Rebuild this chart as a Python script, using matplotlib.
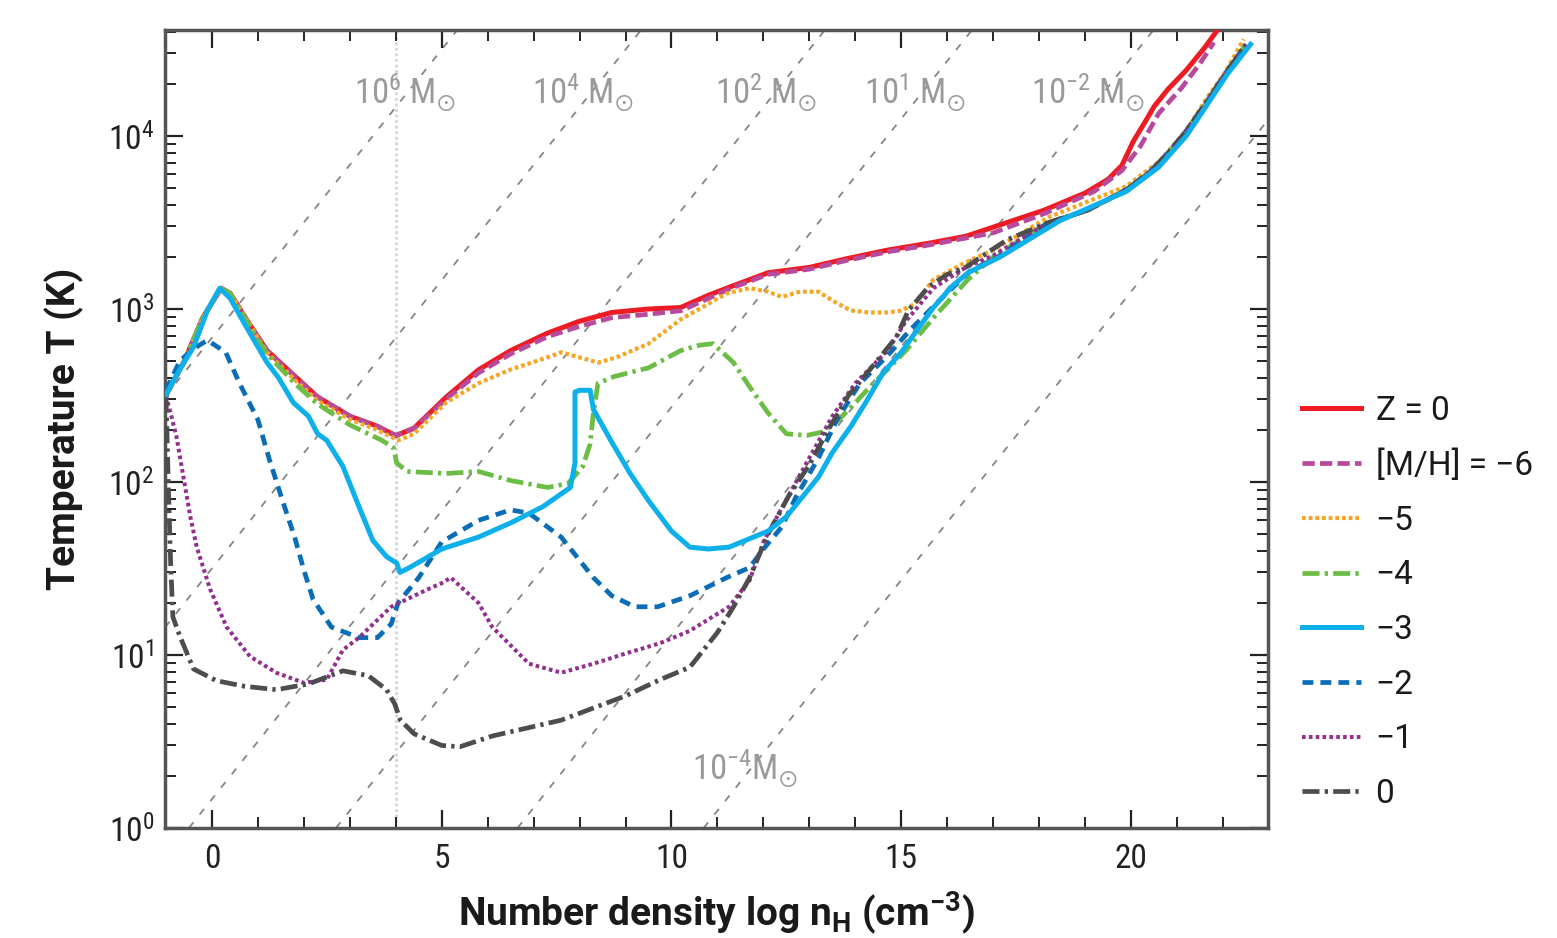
#!/usr/bin/env python3
"""
Thermal evolution of collapsing cores for a range of metallicities,
with lines of constant Jeans mass in the (n_H, T) plane.
"""

import matplotlib
matplotlib.use('Agg')
import matplotlib.pyplot as plt
from matplotlib import font_manager
from matplotlib.ticker import MultipleLocator, LogLocator, NullFormatter, FixedLocator

# ---- collapse tracks: log n_H (cm^-3) and T (K) ----
z0_x = [-1.0, -0.6, -0.2, 0.2, 0.4, 0.8, 1.2, 1.8, 2.3, 3.0, 3.6, 4.0, 4.4, 5.1, 5.8,
        6.5, 7.3, 8.0, 8.7, 9.5, 10.2, 10.8, 11.3, 12.1, 13.0, 13.8, 14.7, 15.6, 16.4,
        17.3, 18.1, 19.0, 19.5, 19.8, 20.05, 20.3, 20.5, 20.8, 21.2, 21.6, 21.9]
z0_t = [320, 500, 890, 1320, 1230, 830, 575, 410, 310, 240, 210, 185, 205, 310, 445,
        575, 725, 850, 955, 1000, 1020, 1200, 1350, 1620, 1740, 1950, 2190, 2400, 2630,
        3160, 3720, 4680, 5620, 6760, 9330, 12000, 14800, 18600, 24000, 32400, 41700]

m6_x = [-1.0, -0.6, -0.2, 0.2, 0.4, 0.8, 1.2, 1.8, 2.3, 3.0, 3.6, 4.0, 4.4, 5.1, 5.8,
        6.5, 7.3, 8.0, 8.7, 9.5, 10.2, 10.8, 11.3, 12.1, 13.0, 13.8, 14.7, 15.6, 16.4,
        17.0, 18.1, 19.2, 19.8, 20.2, 20.6, 21.1, 21.5, 21.8]
m6_t = [316, 500, 890, 1320, 1230, 830, 575, 407, 309, 240, 209, 186, 204, 302, 427,
        550, 692, 794, 891, 933, 977, 1150, 1320, 1585, 1700, 1905, 2140, 2345, 2570,
        2755, 3550, 4790, 6310, 8710, 13500, 19000, 26300, 34700]

m5_x = [-1.0, -0.6, -0.2, 0.2, 0.4, 0.8, 1.2, 1.8, 2.3, 3.0, 3.6, 4.05, 4.4, 5.1, 5.8,
        6.5, 7.3, 7.6, 8.0, 8.4, 8.8, 9.5, 10.2, 10.8, 11.2, 11.7, 12.1, 12.4, 12.8,
        13.2, 13.5, 13.9, 14.3, 14.7, 15.0, 15.3, 15.7, 16.4, 17.0, 18.2, 19.9, 20.6,
        21.2, 21.65, 22.05, 22.45]
m5_t = [316, 500, 890, 1320, 1230, 830, 560, 390, 295, 230, 200, 174, 190, 288, 372,
        447, 525, 562, 525, 490, 525, 630, 870, 1070, 1230, 1320, 1260, 1175, 1260,
        1260, 1120, 980, 955, 955, 980, 1070, 1480, 1860, 2190, 3390, 5130, 7080,
        10700, 16600, 23400, 36300]

m4_x = [-1.0, -0.6, -0.2, 0.2, 0.4, 0.8, 1.2, 1.8, 2.3, 3.0, 3.7, 3.95, 4.02, 4.25,
        5.1, 5.8, 6.5, 7.3, 7.75, 8.07, 8.23, 8.3, 8.4, 8.75, 9.5, 10.2, 10.6, 10.9,
        11.35, 11.7, 12.1, 12.5, 12.95, 13.3, 13.6, 13.9, 14.25, 14.7, 15.1, 15.7,
        16.45, 17.0, 18.2, 19.05, 19.9, 20.4, 20.8, 21.2, 21.65, 22.05, 22.5]
m4_t = [316, 500, 890, 1320, 1230, 810, 550, 372, 282, 214, 174, 158, 129, 115,
        112, 115, 102, 93, 98, 123, 166, 251, 372, 407, 457, 575, 617, 631,
        490, 355, 251, 190, 186, 195, 224, 269, 339, 447, 575, 890,
        1480, 2000, 3160, 3720, 4900, 6170, 7940, 10700, 15800, 22900, 33900]

m3_x = [-1.0, -0.7, -0.4, -0.1, 0.17, 0.4, 0.7, 1.2, 1.45, 1.77, 2.1, 2.3, 2.5, 2.85,
        3.2, 3.5, 3.8, 4.02, 4.09, 4.3, 5.0, 5.8, 6.5, 7.2, 7.8, 7.9, 7.9, 8.0, 8.23,
        8.3, 8.7, 9.1, 9.5, 10.0, 10.4, 10.8, 11.25, 12.1, 12.5, 12.8, 13.2, 13.5, 13.9,
        14.25, 14.6, 15.0, 15.35, 15.7, 16.1, 16.45, 17.15, 18.45, 19.9, 20.6, 21.2,
        21.65, 22.1, 22.6]
m3_t = [320, 447, 603, 980, 1320, 1150, 830, 490, 400, 288, 240, 190, 174, 123,
        72, 46, 37, 34, 30, 32, 41, 48, 58, 72, 93, 129, 331, 339, 339,
        263, 170, 112, 78, 52, 42, 41, 42, 52, 63, 79, 107, 148, 209,
        295, 427, 562, 760, 1020, 1350, 1620, 2000, 3240, 4790, 6610, 10000,
        15100, 22900, 33900]

m2_x = [-1.0, -0.7, -0.4, -0.1, 0.3, 0.6, 1.0, 1.25, 1.55, 1.8, 2.0, 2.2, 2.6, 3.2,
        3.6, 3.9, 4.05, 4.5, 5.0, 5.8, 6.5, 6.9, 7.6, 8.3, 8.7, 9.2, 9.7, 10.4, 11.2,
        11.7, 12.0, 12.4, 12.7, 13.2, 13.6, 14.1, 14.7, 15.2, 15.9, 16.5, 17.1, 18.2,
        19.05, 19.9, 20.4, 20.8, 21.2, 21.65, 22.05, 22.5]
m2_t = [339, 500, 589, 660, 562, 372, 229, 135, 76, 48, 31, 21, 14.5, 12.6,
        12.6, 15.1, 20, 28, 45, 60, 69, 66, 48, 28, 22, 19, 19, 22, 28,
        32, 41, 55, 81, 138, 229, 372, 537, 760, 1170, 1660, 2000, 3160,
        3720, 4900, 6170, 7940, 10700, 15800, 22900, 33900]

m1_x = [-1.0, -0.9, -0.77, -0.62, -0.47, -0.33, -0.04, 0.32, 0.83, 1.4, 2.0, 2.5,
        2.85, 3.2, 3.9, 4.7, 5.0, 5.2, 5.4, 5.8, 6.1, 6.9, 7.6, 8.3, 9.0, 9.75, 10.4,
        11.25, 11.7, 12.0, 12.5, 13.0, 13.5, 14.0, 14.7, 15.1, 15.7, 16.4, 17.0, 18.2,
        19.05, 19.9, 20.4, 20.8, 21.2, 21.65, 22.05, 22.5]
m1_t = [316, 251, 182, 107, 63, 42, 24, 14.5, 9.8, 7.9, 6.9, 7.2,
        10.7, 12.6, 19, 24, 26, 28, 25, 20, 14.5, 8.9, 7.9, 8.9, 10.2, 11.7, 13.8,
        19, 27, 45, 79, 138, 240, 372, 575, 850, 1320, 1740, 2040, 3160,
        3720, 4900, 6170, 7940, 10700, 15800, 22900, 33900]

p0_x = [-1.0, -0.95, -0.9, -0.85, -0.7, -0.4, 0.1, 0.7, 1.4, 2.1, 2.85, 3.4, 3.8,
        3.98, 4.1, 4.4, 5.0, 5.4, 6.1, 7.6, 9.0, 9.75, 10.4, 11.0, 11.35, 11.7, 12.1,
        12.55, 13.0, 13.45, 13.85, 14.35, 14.9, 15.15, 15.6, 16.0, 16.4, 16.9, 17.3,
        18.2, 19.05, 19.9, 20.4, 20.8, 21.2, 21.65, 22.05, 22.5]
p0_t = [316, 100, 35, 16.6, 12.9, 8.3, 7.1, 6.6, 6.3, 6.8, 8.1, 7.6, 6.3,
        5.2, 4.2, 3.5, 3.0, 2.95, 3.4, 4.2, 5.8, 7.2, 8.5, 13.5, 19, 28, 50,
        83, 126, 209, 316, 457, 692, 977, 1350, 1585, 1740, 2140, 2510,
        3160, 3720, 4900, 6170, 7940, 10700, 15800, 22900, 33900]

# ---- Jeans-mass reference lines: log n_H where T = 1 K ----
jeans_x0 = [-8.5, -4.5, -0.5, 2.7, 6.65, 10.7]
jeans_text = ['10$^{6}$ M$_{\\odot}$', '10$^{4}$ M$_{\\odot}$', '10$^{2}$ M$_{\\odot}$',
              '10$^{1}$ M$_{\\odot}$', '10$^{-2}$ M$_{\\odot}$', '10$^{-4}$M$_{\\odot}$']
jeans_text_x = [4.2, 8.07, 12.06, 15.3, 19.07, 11.6]
jeans_text_t = [17800, 17800, 17800, 17800, 17800, 2.2]

# density of the vertical marker
n_mark = 4.0

y_tick_vals = [1, 10, 100, 1000, 10000]
y_tick_text = ['$10^{0}$', '$10^{1}$', '$10^{2}$', '$10^{3}$', '$10^{4}$']
x_tick_vals = [0, 5, 10, 15, 20]


def pick_font():
    """Prefer a narrow sans face if one is installed"""
    fonts = font_manager.fontManager.ttflist
    names = {f.name for f in fonts}
    for cand in ['Roboto Condensed', 'Liberation Sans Narrow', 'Open Sans Condensed']:
        if cand in names:
            return cand
    return 'DejaVu Sans'


def plot_tracks():
    narrow = pick_font()
    plt.rcParams['font.family'] = [narrow, 'DejaVu Sans']
    plt.rcParams['mathtext.default'] = 'regular'
    plt.rcParams['mathtext.fontset'] = 'dejavusans'
    wide = ['Roboto', 'DejaVu Sans']

    fig = plt.figure(figsize=(15.57, 9.38), dpi=100)
    ax = fig.add_axes([0.106, 0.1173, 0.7084, 0.8507])
    ax.set_yscale('log')
    ax.set_xlim(-1.02, 22.98)
    ax.set_ylim(1, 4.1e4)

    # constant Jeans mass: T proportional to n^(1/3)
    for x0 in jeans_x0:
        ax.axline((x0, 1.0), (x0 + 3.0, 10.0), color='#858585', lw=1.3,
                  dashes=(4, 5.5), zorder=1)
    for txt, tx, ty in zip(jeans_text, jeans_text_x, jeans_text_t):
        ax.text(tx, ty, txt, color='#9a9a9a', fontsize=25, ha='center', va='center',
                zorder=2)

    ax.axvline(n_mark, color='#d9d3dc', lw=2, linestyle=(0, (1, 1)), zorder=1)

    ax.plot(z0_x, z0_t, color='#ed1c24', lw=3.6, label='Z = 0', zorder=3)
    ax.plot(m6_x, m6_t, color='#b84a9e', lw=3.4, dashes=(2.6, 1.1),
            label='[M/H] = \u22126', zorder=4)
    ax.plot(m5_x, m5_t, color='#f5a623', lw=3.0, dashes=(0.9, 0.7),
            label='\u22125', zorder=4)
    ax.plot(m4_x, m4_t, color='#6cbd45', lw=3.4, dashes=(3.6, 1.1, 0.7, 1.1),
            label='\u22124', zorder=4)
    ax.plot(m3_x, m3_t, color='#0db0ea', lw=3.6, label='\u22123', zorder=6)
    ax.plot(m2_x, m2_t, color='#0a6db5', lw=3.4, dashes=(2.3, 1.5),
            label='\u22122', zorder=5)
    ax.plot(m1_x, m1_t, color='#93308f', lw=2.9, dashes=(0.9, 0.8),
            label='\u22121', zorder=5)
    ax.plot(p0_x, p0_t, color='#4d4d4d', lw=3.4, dashes=(3.6, 1.1, 0.7, 1.1),
            label='0', zorder=5)

    # axes frame and ticks
    for side in ax.spines.values():
        side.set_color('#555555')
        side.set_linewidth(2.5)
    ax.xaxis.set_major_locator(FixedLocator(x_tick_vals))
    ax.xaxis.set_minor_locator(MultipleLocator(1))
    ax.yaxis.set_major_locator(FixedLocator(y_tick_vals))
    ax.set_yticklabels(y_tick_text)
    ax.yaxis.set_minor_locator(LogLocator(base=10, subs=range(2, 10)))
    ax.yaxis.set_minor_formatter(NullFormatter())
    ax.tick_params(which='both', direction='in', top=True, right=True,
                   colors='#222222', labelsize=24)
    ax.tick_params(which='major', length=13, width=1.6)
    ax.tick_params(which='minor', length=8, width=1.4)
    ax.tick_params(axis='x', which='major', pad=11)
    ax.tick_params(axis='y', which='major', pad=8)

    ax.set_xlabel('Number density log n$_{H}$ (cm$^{-3}$)', fontsize=28,
                  fontweight='bold', family=wide, labelpad=10, color='#1a1a1a')
    ax.set_ylabel('Temperature T (K)', fontsize=28, fontweight='bold', family=wide,
                  labelpad=17, color='#1a1a1a')

    leg = ax.legend(loc='center left', bbox_to_anchor=(1.031, 0.2826), frameon=False,
                    prop={'family': wide, 'size': 24}, handlelength=1.75,
                    handletextpad=0.45, labelspacing=0.68, borderpad=0,
                    borderaxespad=0)
    for t in leg.get_texts():
        t.set_color('#1a1a1a')

    fig.savefig('out.png', dpi=100)


def main():
    plot_tracks()


if __name__ == "__main__":
    main()
